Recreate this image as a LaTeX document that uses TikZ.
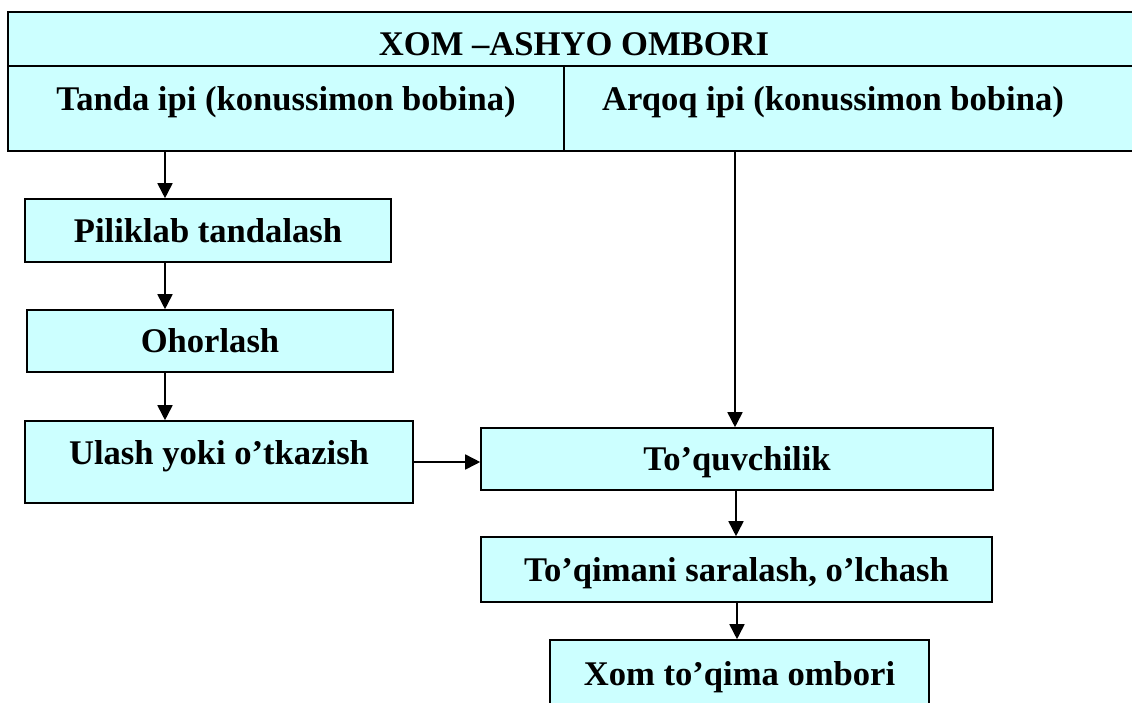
\documentclass[tikz,border=0pt]{standalone}
\usepackage{fontspec}
\setmainfont{Liberation Serif}
\usetikzlibrary{arrows.meta}
\definecolor{boxfill}{HTML}{CCFFFF}
\begin{document}
\begin{tikzpicture}[x=1pt,y=-1pt,
  box/.style={draw=black, line width=1.6pt, fill=boxfill, inner sep=0pt,
    text height=23pt, text depth=0pt,
    font=\fontsize{34.6}{40}\selectfont\bfseries},
  arr/.style={line width=1.7pt, -{Triangle[length=15pt,width=15pt]}}]
\useasboundingbox (0,0) rectangle (1132,702);

\node[box, minimum width=1132pt, minimum height=54pt, text height=32pt] (head) at (574,39) {XOM –ASHYO OMBORI};
\node[box, minimum width=556pt, minimum height=85pt, text depth=20pt] (tanda) at (286,108.5) {Tanda ipi (konussimon bobina)};
\node[box, minimum width=576pt, minimum height=85pt, text depth=20pt] (arqoq) at (852,108.5) {Arqoq ipi (konussimon bobina)\hspace*{38pt}};

\node[box, minimum width=366pt, minimum height=63pt] (pilik) at (208,230.5) {Piliklab tandalash};
\node[box, minimum width=366pt, minimum height=62pt] (ohor) at (210,341) {Ohorlash};
\node[box, minimum width=388pt, minimum height=82pt, text depth=19pt] (ulash) at (219,462) {Ulash yoki o’tkazish};
\node[box, minimum width=512pt, minimum height=62pt] (toquv) at (737,459) {To’quvchilik};
\node[box, minimum width=511pt, minimum height=65pt] (toqim) at (736.5,569.5) {To’qimani saralash, o’lchash};
\node[box, minimum width=379pt, minimum height=80pt, text depth=13pt] (xom) at (739.5,680) {Xom to’qima ombori};

\coordinate (a1) at (165,0);
\coordinate (a2) at (735,0);
\coordinate (a3) at (736,0);
\coordinate (a4) at (737,0);

\draw[arr] (a1 |- tanda.south) -- (a1 |- pilik.north);
\draw[arr] (a1 |- pilik.south) -- (a1 |- ohor.north);
\draw[arr] (a1 |- ohor.south) -- (a1 |- ulash.north);
\draw[arr] (a2 |- arqoq.south) -- (a2 |- toquv.north);
\draw[arr] (ulash.east) -- (ulash.east -| toquv.west);
\draw[arr] (a3 |- toquv.south) -- (a3 |- toqim.north);
\draw[arr] (a4 |- toqim.south) -- (a4 |- xom.north);
\end{tikzpicture}
\end{document}
